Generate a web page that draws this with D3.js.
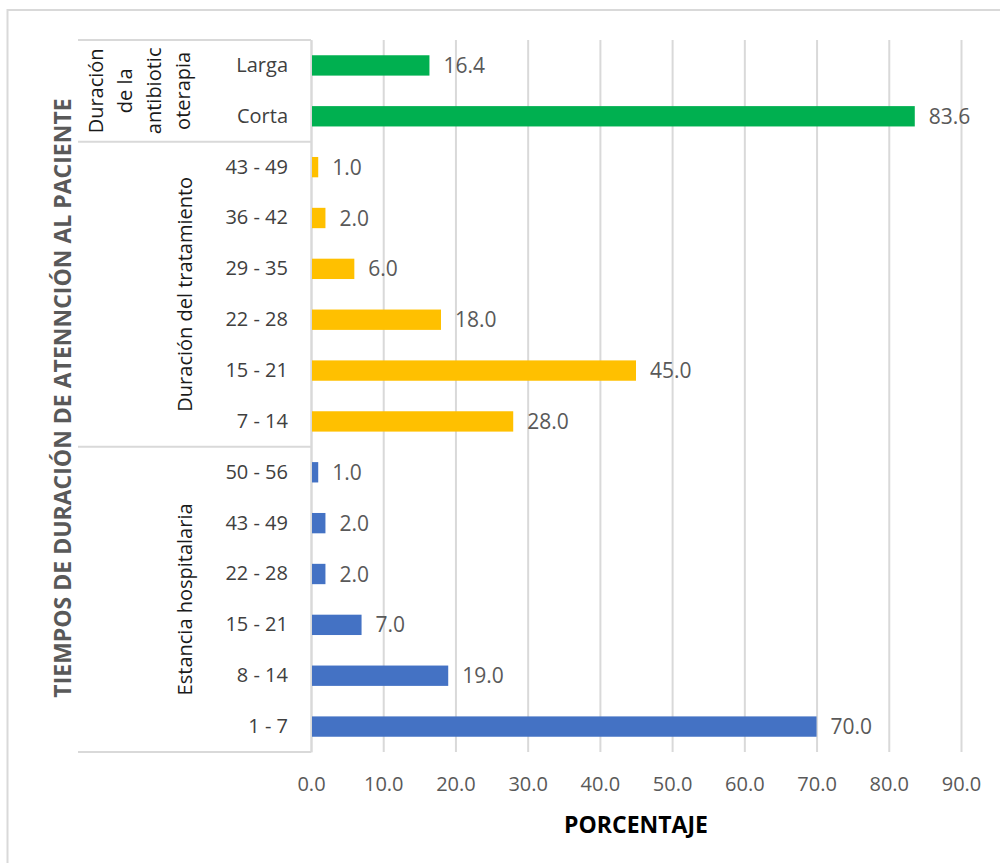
<!DOCTYPE html>
<html>
<head>
<meta charset="utf-8">
<script src="https://cdn.jsdelivr.net/npm/d3@7"></script>
<style>
  body { margin: 0; background: #fff; }
  text { font-family: "Open Sans", sans-serif; }
</style>
</head>
<body>
<div id="chart-area"></div>
<script>
// groups, top to bottom
const groupNames = ["Duración de la antibioticoterapia", "Duración del tratamiento", "Estancia hospitalaria"];
const groupLines = [["Duración", "de la", "antibiotic", "oterapia"], ["Duración del tratamiento"], ["Estancia hospitalaria"]];

const antibioticoLabels = ["Larga", "Corta"];
const antibioticoValues = [16.4, 83.6];

const tratamientoLabels = ["43 - 49", "36 - 42", "29 - 35", "22 - 28", "15 - 21", "7 - 14"];
const tratamientoValues = [1.0, 2.0, 6.0, 18.0, 45.0, 28.0];

const estanciaLabels = ["50 - 56", "43 - 49", "22 - 28", "15 - 21", "8 - 14", "1 - 7"];
const estanciaValues = [1.0, 2.0, 2.0, 7.0, 19.0, 70.0];

const xTicks = [0, 10, 20, 30, 40, 50, 60, 70, 80, 90];
const groupColors = ["#00B050", "#FFC000", "#4472C4"];

const xTitle = "PORCENTAJE";
const yTitle = "TIEMPOS DE DURACIÓN DE ATENNCIÓN AL PACIENTE";

const groupsData = [
  { labels: antibioticoLabels, values: antibioticoValues },
  { labels: tratamientoLabels, values: tratamientoValues },
  { labels: estanciaLabels, values: estanciaValues }
];

let rows = [];
groupsData.forEach((g, gi) => {
  g.labels.forEach((l, i) => {
    rows.push({ key: gi + "|" + l, label: l, value: g.values[i], group: gi });
  });
});

let svgW = 1000;
let svgH = 863;

let margin = { left: 311, right: 39, top: 40, bottom: 111 };
let chartW = svgW - margin.left - margin.right;
let chartH = svgH - margin.top - margin.bottom;

let x = d3.scaleLinear()
  .domain([0, 90])
  .range([0, chartW]);

let y = d3.scaleBand()
  .domain(rows.map(d => d.key))
  .range([0, chartH])
  .paddingInner(0.6)
  .paddingOuter(0.3);

let svg = d3.select("#chart-area")
  .append("svg")
  .attr("width", svgW)
  .attr("height", svgH);

svg.append("rect")
  .attr("width", svgW).attr("height", svgH)
  .attr("fill", "#fff");

// outer chart border
svg.append("rect")
  .attr("x", 7.5).attr("y", 10)
  .attr("width", 1100).attr("height", 1000)
  .attr("fill", "none")
  .attr("stroke", "#d9d9d9")
  .attr("stroke-width", 2);

let group = svg.append("g")
  .attr("transform", `translate(${margin.left},${margin.top})`);

// grid
let grid = group.append("g")
  .attr("transform", `translate(0, ${chartH})`)
  .call(d3.axisBottom(x).tickValues(xTicks).tickSize(-chartH).tickFormat(""));
grid.select(".domain").remove();
grid.selectAll("line")
  .attr("stroke", "#d9d9d9")
  .attr("stroke-width", 2);

// x axis labels
let groupX = group.append("g")
  .attr("transform", `translate(0, ${chartH})`)
  .call(d3.axisBottom(x).tickValues(xTicks).tickSize(0).tickPadding(25).tickFormat(d3.format(".1f")));
groupX.select(".domain").remove();
groupX.selectAll("text")
  .attr("fill", "#595959")
  .style("font-size", "20px");

// group separators
let half = (y.step() - y.bandwidth()) / 2;
let bounds = [0];
groupsData.forEach((g, gi) => {
  let last = rows.filter(r => r.group === gi).slice(-1)[0];
  bounds.push(y(last.key) + y.bandwidth() + half);
});
group.selectAll(".sep")
  .data(bounds)
  .enter().append("line")
  .attr("class", "sep")
  .attr("x1", 78 - margin.left).attr("x2", 0)
  .attr("y1", d => d).attr("y2", d => d)
  .attr("stroke", "#d9d9d9")
  .attr("stroke-width", 2);

// y axis
let labelByKey = {};
rows.forEach(r => labelByKey[r.key] = r.label);
let groupY = group.append("g")
  .call(d3.axisLeft(y).tickSize(0).tickSizeOuter(0).tickPadding(23).tickFormat(k => labelByKey[k]));
groupY.select(".domain")
  .attr("stroke", "#d9d9d9")
  .attr("stroke-width", 2);
groupY.selectAll("text")
  .attr("fill", "#404040")
  .style("font-size", "20px");

// bars
group.selectAll(".bar")
  .data(rows)
  .enter().append("rect")
  .attr("class", "bar")
  .attr("x", x(0) + 1)
  .attr("y", d => y(d.key))
  .attr("width", d => x(d.value) - x(0) - 1)
  .attr("height", y.bandwidth())
  .attr("fill", d => groupColors[d.group]);

// data labels
group.selectAll(".val")
  .data(rows)
  .enter().append("text")
  .attr("class", "val")
  .attr("x", d => x(d.value) + 14)
  .attr("y", d => y(d.key) + y.bandwidth() / 2)
  .attr("dy", "0.36em")
  .attr("fill", "#595959")
  .style("font-size", "21px")
  .text(d => d3.format(".1f")(d.value));

// group labels (rotated)
let baseX = [103 - margin.left, 192 - margin.left, 192 - margin.left];
groupLines.forEach((lines, gi) => {
  let cy = (bounds[gi] + bounds[gi + 1]) / 2;
  let t = group.append("text")
    .attr("transform", `translate(${baseX[gi]},${cy}) rotate(-90)`)
    .attr("text-anchor", "middle")
    .attr("fill", "#1a1a1a")
    .style("font-size", "20px");
  lines.forEach((l, li) => {
    t.append("tspan")
      .attr("x", 0)
      .attr("y", li * 29)
      .text(l);
  });
});

// axis titles
svg.append("text")
  .attr("x", margin.left + chartW / 2)
  .attr("y", 833)
  .attr("text-anchor", "middle")
  .attr("fill", "#000")
  .style("font-size", "23px")
  .style("font-weight", "bold")
  .text(xTitle);

svg.append("text")
  .attr("transform", `translate(71, ${(margin.top + margin.top + chartH) / 2 + 2}) rotate(-90)`)
  .attr("text-anchor", "middle")
  .attr("fill", "#595959")
  .style("font-size", "23px")
  .style("font-weight", "bold")
  .text(yTitle);
</script>
</body>
</html>
